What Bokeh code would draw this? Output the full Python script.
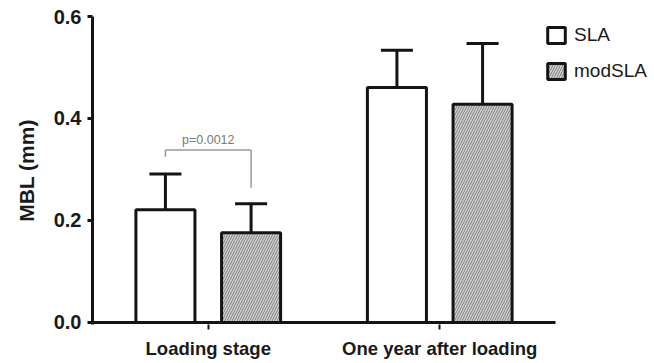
from bokeh.plotting import figure
from bokeh.models import ColumnDataSource, Range1d, Whisker, TeeHead, Legend, LegendItem, FixedTicker
from bokeh.core.properties import value
from bokeh.embed import file_html
from bokeh.resources import INLINE

categories = ["Loading stage", "One year after loading"]
sla_mean = [0.221, 0.461]
sla_upper = [0.291, 0.534]
mod_mean = [0.176, 0.428]
mod_upper = [0.233, 0.547]
y_ticks = [0.0, 0.2, 0.4, 0.6]
p_text = "p=0.0012"
bracket_y = 0.338
bracket_left_end = 0.325
bracket_right_end = 0.264

FONT = "Liberation Sans"
OFF = 0.185
BW = 0.255
INK = "#141414"

xc = [i + 0.5 for i in range(len(categories))]
src = ColumnDataSource(dict(
    xs=[x - OFF for x in xc], xm=[x + OFF for x in xc],
    sla=sla_mean, sla_hi=sla_upper, mod=mod_mean, mod_hi=mod_upper))

W, H = 652, 361
p = figure(width=W, height=H, x_range=Range1d(0, (W - 92) / 231.5),
           y_range=Range1d(-0.004, 0.6), output_backend="svg", toolbar_location=None,
           min_border_left=92, min_border_right=0, min_border_top=16, min_border_bottom=H - 325)
p.outline_line_color = None
p.grid.visible = False

r1 = p.vbar(x="xs", top="sla", width=BW, source=src,
            fill_color="white", line_color=INK, line_width=3)
r2 = p.vbar(x="xm", top="mod", width=BW, source=src,
            fill_color="#d4d4d4", line_color=INK, line_width=3,
            hatch_pattern="/", hatch_color="#7a7a7a", hatch_scale=5, hatch_weight=1)

for xb, lo, hi in [("xs", "sla", "sla_hi"), ("xm", "mod", "mod_hi")]:
    w = Whisker(base=xb, lower=lo, upper=hi, source=src,
                line_color=INK, line_width=3,
                upper_head=TeeHead(size=32, line_color=INK, line_width=3),
                lower_head=None)
    p.add_layout(w)

# baseline (x axis line, ending at the data extent)
p.segment(x0=[0], y0=[0], x1=[len(categories)], y1=[0], line_color=INK, line_width=3)

# significance bracket
bx0, bx1 = xc[0] - OFF, xc[0] + OFF
p.segment(x0=[bx0, bx0, bx1], y0=[bracket_y, bracket_y, bracket_y],
          x1=[bx1, bx0, bx1], y1=[bracket_y, bracket_left_end, bracket_right_end],
          line_color="#9a9a9a", line_width=1.5)
p.text(x=[xc[0]], y=[bracket_y], text=[p_text], text_font=value(FONT), text_font_size="12.5px",
       text_color="#7a7a7a", text_align="center", text_baseline="bottom", y_offset=-3)

# axes
p.yaxis.ticker = FixedTicker(ticks=y_ticks)
p.yaxis.major_label_overrides = {v: f"{v:.1f}" for v in y_ticks}
p.yaxis.minor_tick_line_color = None
p.yaxis.major_tick_out = 5
p.yaxis.major_tick_in = 0
p.yaxis.major_tick_line_width = 3
p.yaxis.axis_line_width = 3
p.yaxis.axis_line_color = INK
p.yaxis.major_tick_line_color = INK
p.yaxis.major_label_text_font = FONT
p.yaxis.major_label_text_font_style = "bold"
p.yaxis.major_label_text_font_size = "20px"
p.yaxis.major_label_text_color = "#1a1a1a"
p.yaxis.major_label_standoff = 6
p.yaxis.axis_label = "MBL (mm)"
p.yaxis.axis_label_text_font = FONT
p.yaxis.axis_label_text_font_style = "bold"
p.yaxis.axis_label_text_font_size = "21px"
p.yaxis.axis_label_text_color = "#1a1a1a"
p.yaxis.axis_label_standoff = 13

p.xaxis.ticker = FixedTicker(ticks=xc)
p.xaxis.major_label_overrides = {x: c for x, c in zip(xc, categories)}
p.xaxis.axis_line_color = None
p.xaxis.minor_tick_line_color = None
p.xaxis.major_tick_out = 5
p.xaxis.major_tick_in = 0
p.xaxis.major_tick_line_width = 2
p.xaxis.major_tick_line_color = INK
p.xaxis.major_label_text_font = FONT
p.xaxis.major_label_text_font_style = "bold"
p.xaxis.major_label_text_font_size = "18.5px"
p.xaxis.major_label_text_color = "#1a1a1a"
p.xaxis.major_label_standoff = 8

legend = Legend(items=[LegendItem(label="SLA", renderers=[r1]),
                       LegendItem(label="modSLA", renderers=[r2])],
                location=(453, 242), orientation="vertical",
                padding=0, margin=0, spacing=14, glyph_width=22, glyph_height=20,
                label_standoff=7, border_line_color=None, background_fill_alpha=0,
                label_text_font=FONT, label_text_font_size="19px", label_text_color="#1a1a1a")
p.add_layout(legend)

open("out.html", "w").write(file_html(p, INLINE))
